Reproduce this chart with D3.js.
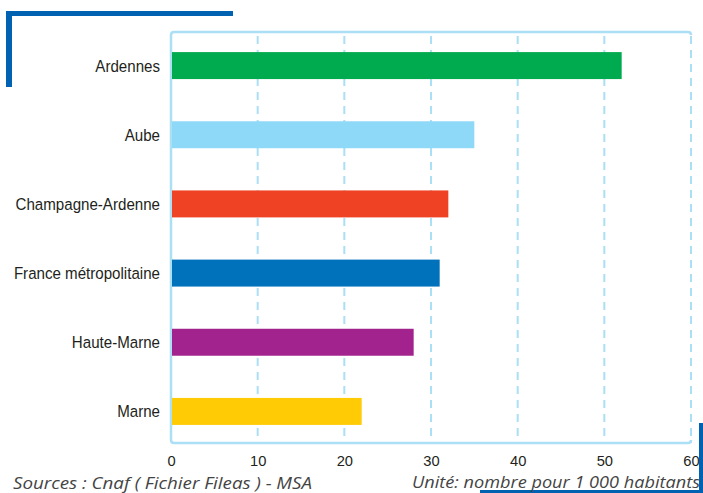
<!DOCTYPE html>
<html><head><meta charset="utf-8">
<script src="https://cdn.jsdelivr.net/npm/d3@7"></script>
<style>body{margin:0;background:#fff}svg{display:block}</style>
</head><body>
<svg id="c" width="703" height="493"></svg>
<script>
const categories = ["Ardennes","Aube","Champagne-Ardenne","France métropolitaine","Haute-Marne","Marne"];
const values = [52,35,32,31,28,22];
const colors = ["#00aa4f","#8ed8f8","#ef4123","#0071bb","#a2238e","#ffcb05"];
const xTicks = [0,10,20,30,40,50,60];
const source = "Sources : Cnaf ( Fichier Fileas ) - MSA";
const unit = "Unité: nombre pour 1 000 habitants";

const svg = d3.select("#c");
const x = d3.scaleLinear().domain([0,60]).range([171,691]);
const y = d3.scaleBand().domain(categories).range([31,446]).paddingInner(0.61).paddingOuter(0.305);
const frameTop = 32, frameBottom = 443;
const grid = "#aadff6";
const labelFont = "'Liberation Sans', Arial, sans-serif";
const squeeze = 0.9;

// gridlines (dashed)
svg.append("g").selectAll("line").data(xTicks.filter(d=>d>0)).join("line")
  .attr("x1",d=>x(d)).attr("x2",d=>x(d)).attr("y1",frameTop+4).attr("y2",frameBottom)
  .attr("stroke",grid).attr("stroke-width",2).attr("stroke-dasharray","8,6");

// frame: left, top, bottom solid with rounded corners
const r = 3;
svg.append("path")
  .attr("d",`M${x(60)},${frameTop+r} Q${x(60)},${frameTop} ${x(60)-r},${frameTop} L${x(0)+r},${frameTop} Q${x(0)},${frameTop} ${x(0)},${frameTop+r} L${x(0)},${frameBottom-r} Q${x(0)},${frameBottom} ${x(0)+r},${frameBottom} L${x(60)-r},${frameBottom} Q${x(60)},${frameBottom} ${x(60)},${frameBottom-r}`)
  .attr("fill","none").attr("stroke",grid).attr("stroke-width",2.5);

// bars
svg.append("g").selectAll("rect").data(categories).join("rect")
  .attr("x",x(0)+1).attr("y",d=>y(d)).attr("height",y.bandwidth())
  .attr("width",(d,i)=>x(values[i])-x(0)-1).attr("fill",(d,i)=>colors[i]);

// category labels (slightly condensed like the reference face)
svg.append("g").selectAll("text").data(categories).join("text")
  .attr("transform",d=>`translate(160,${y(d)+y.bandwidth()/2}) scale(${squeeze},1)`)
  .attr("dy","0.36em")
  .attr("text-anchor","end").style("font-family",labelFont)
  .style("font-size","16.8px").attr("fill","#231f20").text(d=>d);

// x axis tick labels
const xAxis = d3.axisBottom(x).tickValues(xTicks).tickSize(0).tickPadding(0);
const ax = svg.append("g").attr("transform",`translate(0,${455})`).call(xAxis);
ax.select(".domain").remove();
ax.selectAll("text").style("font-family",labelFont)
  .style("font-size","15.5px").attr("fill","#231f20").attr("dy","0.71em")
  .attr("transform",`scale(0.95,1)`);

// brackets
const dark = "#0062b0";
svg.append("path").attr("d","M6,11 H233 V16 H12 V87 H6 Z").attr("fill",dark);
svg.append("path").attr("d","M699,423 H703 V493 H480 V490 H699 Z").attr("fill",dark);

// footnotes
const f1 = svg.append("text").attr("x",13).attr("y",489).style("font-family","'Open Sans', sans-serif")
  .style("font-style","italic").style("font-size","17px").attr("fill","#444").text(source);
const f2 = svg.append("text").attr("x",700).attr("y",488).attr("text-anchor","end").style("font-family","'Open Sans', sans-serif")
  .style("font-style","italic").style("font-size","17px").attr("fill","#444").text(unit);
f1.attr("textLength",299).attr("lengthAdjust","spacingAndGlyphs");
f2.attr("textLength",288).attr("lengthAdjust","spacingAndGlyphs");
</script>
</body></html>
